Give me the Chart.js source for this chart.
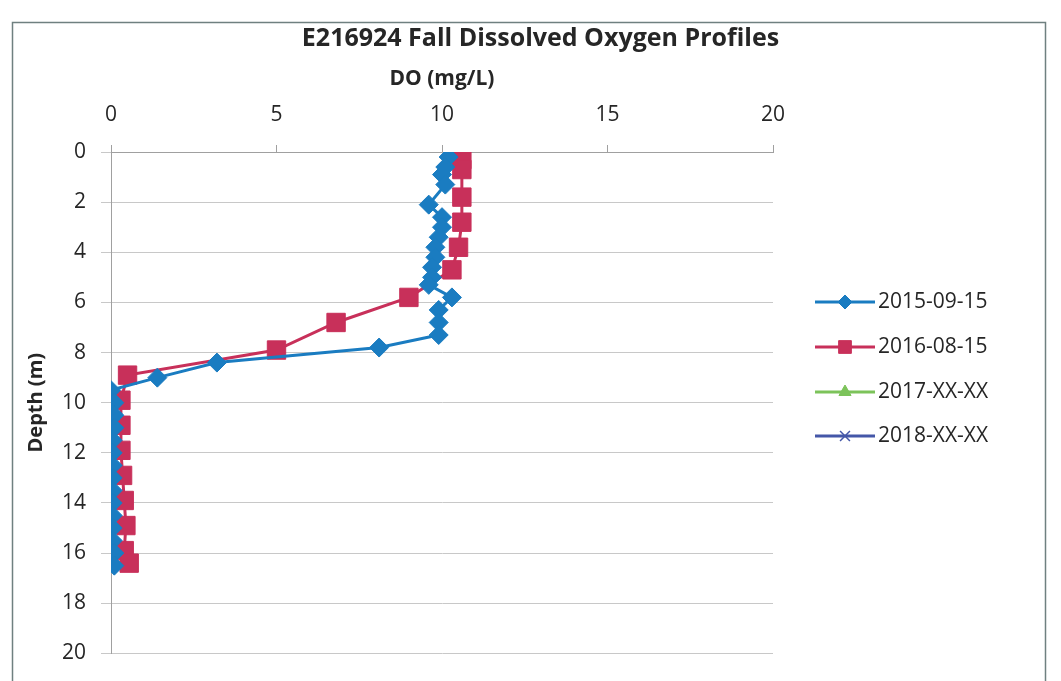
<!DOCTYPE html>
<html>
<head>
<meta charset="utf-8">
<script src="https://cdn.jsdelivr.net/npm/chart.js@4.4.1/dist/chart.umd.min.js"></script>
<style>
  html, body { margin: 0; padding: 0; background: #ffffff; }
  #wrap { width: 1061px; height: 681px; position: relative; }
</style>
</head>
<body>
<div id="wrap"><canvas id="c" width="1061" height="681"></canvas></div>
<script>
// ---- data ----
const seriesNames = ['2015-09-15', '2016-08-15', '2017-XX-XX', '2018-XX-XX'];

const depth2015 = [0.2, 0.6, 0.9, 1.3, 2.1, 2.6, 3.0, 3.4, 3.8, 4.2, 4.6, 5.0, 5.3, 5.8, 6.3, 6.8, 7.3, 7.8, 8.4, 9.0, 9.5,
                   10.0, 10.5, 11.0, 11.5, 12.0, 12.5, 13.0, 13.5, 14.0, 14.5, 15.0, 15.5, 16.0, 16.5];
const do2015    = [10.2, 10.1, 10.0, 10.1, 9.6, 10.0, 10.0, 9.9, 9.8, 9.8, 9.7, 9.7, 9.6, 10.3, 9.9, 9.9, 9.9, 8.1, 3.2, 1.4, 0.0,
                   0.1, 0.1, 0.1, 0.05, 0.05, 0.05, 0.05, 0.05, 0.05, 0.05, 0.05, 0.05, 0.1, 0.1];

const depth2016 = [0.3, 0.7, 1.8, 2.8, 3.8, 4.7, 5.8, 6.8, 7.9, 8.9, 9.9, 10.9, 11.9, 12.9, 13.9, 14.9, 15.9, 16.4];
const do2016    = [10.6, 10.6, 10.6, 10.6, 10.5, 10.3, 9.0, 6.8, 5.0, 0.5, 0.3, 0.3, 0.3, 0.35, 0.4, 0.45, 0.4, 0.55];

const depth2017 = [];
const do2017    = [];
const depth2018 = [];
const do2018    = [];

const xTicks = [0, 5, 10, 15, 20];
const yTicks = [0, 2, 4, 6, 8, 10, 12, 14, 16, 18, 20];

const titleText = 'E216924 Fall Dissolved Oxygen Profiles';
const xTitle = 'DO (mg/L)';
const yTitle = 'Depth (m)';

// ---- build ----
function pts(xs, ys) { return xs.map((x, i) => ({ x: x, y: ys[i] })); }

const colors = ['#1a7cc1', '#c8305a', '#7cc35a', '#4457a8'];
const styles = ['rectRot', 'rect', 'triangle', 'crossRot'];
const radii  = [9.5, 13, 9, 8];

const datasets = [
  { label: seriesNames[0], data: pts(do2015, depth2015) },
  { label: seriesNames[1], data: pts(do2016, depth2016) },
  { label: seriesNames[2], data: pts(do2017, depth2017) },
  { label: seriesNames[3], data: pts(do2018, depth2018) }
].map((d, i) => Object.assign(d, {
  showLine: true,
  borderColor: colors[i],
  backgroundColor: colors[i],
  borderWidth: 3,
  pointStyle: styles[i],
  pointRadius: radii[i],
  pointHoverRadius: radii[i],
  pointBorderWidth: 1,
  pointBorderColor: colors[i],
  pointBackgroundColor: colors[i],
  tension: 0
}));

const FONT = "'Open Sans', 'DejaVu Sans', sans-serif";
const TEXT = '#262626';

const frame = {
  id: 'frame',
  beforeDraw(chart) {
    const ctx = chart.ctx;
    ctx.save();
    ctx.fillStyle = '#ffffff';
    ctx.fillRect(0, 0, chart.width, chart.height);
    ctx.strokeStyle = '#6f8080';
    ctx.lineWidth = 1.5;
    ctx.strokeRect(12.5, 22.5, 1033, 700);
    ctx.restore();
  },
  afterDraw(chart) {
    // legend: line with marker, like the spreadsheet legend
    const ctx = chart.ctx;
    const rows = [302, 347, 392, 436];
    ctx.save();
    chart.data.datasets.forEach((ds, i) => {
      const y = rows[i];
      ctx.strokeStyle = ds.borderColor;
      ctx.lineWidth = 3;
      ctx.beginPath();
      ctx.moveTo(815, y);
      ctx.lineTo(875, y);
      ctx.stroke();
      ctx.fillStyle = ds.pointBackgroundColor;
      ctx.strokeStyle = ds.pointBorderColor;
      ctx.lineWidth = ds.pointStyle === 'crossRot' ? 1.5 : 1;
      Chart.helpers.drawPoint(ctx, { pointStyle: ds.pointStyle, radius: ds.pointStyle === 'rect' ? 9 : 7, rotation: 0, borderWidth: 1 }, 845, y);
      ctx.fillStyle = TEXT;
      ctx.font = "21px " + FONT;
      ctx.textBaseline = 'middle';
      ctx.textAlign = 'left';
      ctx.fillText(ds.label, 878, y);
    });
    ctx.restore();
  }
};

new Chart(document.getElementById('c'), {
  type: 'scatter',
  data: { datasets: datasets },
  plugins: [frame],
  options: {
    responsive: false,
    animation: false,
    layout: { padding: { left: 20, right: 0, top: 0, bottom: 25 } },
    plugins: {
      legend: { display: false },
      tooltip: { enabled: false },
      title: {
        display: true,
        text: titleText,
        color: TEXT,
        font: { family: FONT, size: 25, weight: 'bold', lineHeight: 1.2 },
        padding: { top: 24, bottom: 0 }
      }
    },
    scales: {
      x: {
        type: 'linear',
        position: 'top',
        min: 0, max: 20,
        afterBuildTicks(s) { s.ticks = xTicks.map(v => ({ value: v })); },
        afterFit(s) { s.height = 152 - 54; },
        ticks: { color: TEXT, font: { family: FONT, size: 21 }, padding: 17 },
        grid: { drawOnChartArea: false, drawTicks: true, tickLength: 7, color: '#a0a0a0' },
        border: { display: true, color: '#a0a0a0', width: 1 },
        title: { display: true, text: xTitle, color: TEXT, font: { family: FONT, size: 21, weight: 'bold', lineHeight: 1.2 }, padding: { top: 12, bottom: 0 } }
      },
      y: {
        type: 'linear',
        reverse: true,
        min: 0, max: 20,
        afterBuildTicks(s) { s.ticks = yTicks.map(v => ({ value: v })); },
        afterFit(s) { s.width = 91; },
        ticks: { color: TEXT, font: { family: FONT, size: 21 }, padding: 15 },
        grid: { color: '#c8c8c8', lineWidth: 1, tickLength: 10, drawTicks: true },
        border: { display: true, color: '#a0a0a0', width: 1 },
        title: { display: true, text: yTitle, color: TEXT, font: { family: FONT, size: 20, weight: 'bold', lineHeight: 1.2 }, padding: { top: 4, bottom: 0 } }
      },
      legendSpace: {
        type: 'linear',
        position: 'right',
        display: true,
        afterFit(s) { s.width = 288; },
        ticks: { display: false },
        grid: { display: false, drawTicks: false },
        border: { display: false },
        title: { display: false }
      }
    }
  }
});
</script>
</body>
</html>
